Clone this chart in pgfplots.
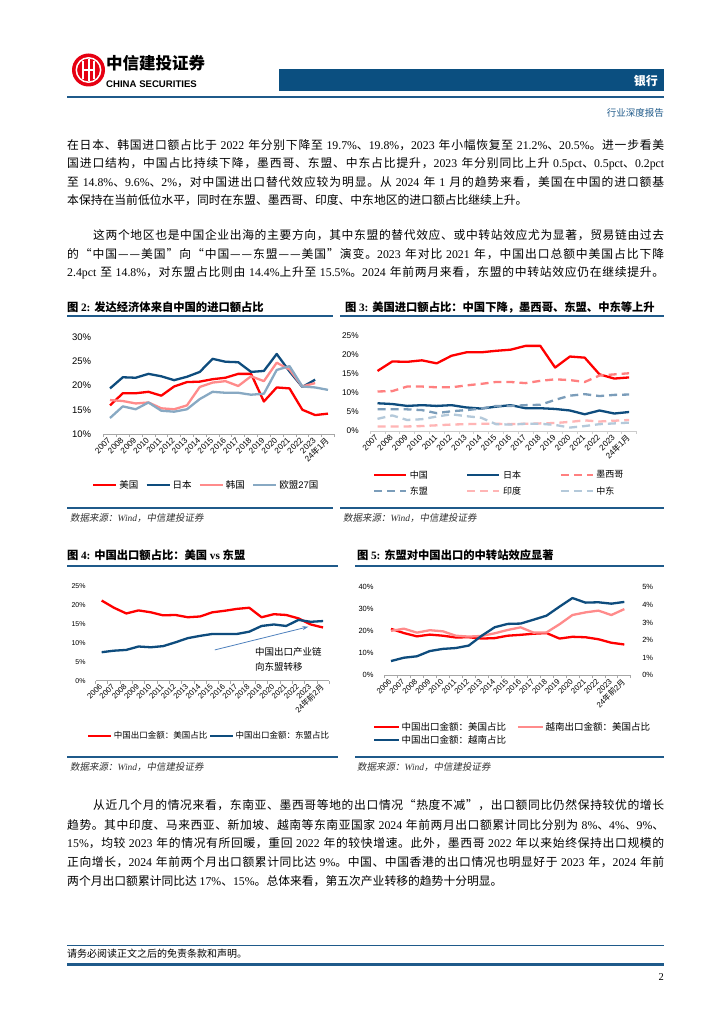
\documentclass[border=0pt]{standalone}
\usepackage{pgfplots}
\pgfplotsset{compat=1.18}
\usepackage{pgfplotstable}
\usetikzlibrary{arrows.meta}
\usepackage{fontspec}
\setmainfont{Liberation Serif}
\newfontfamily\lsans{Liberation Sans}
\newfontfamily\cjk{Noto Sans CJK SC}
\newfontfamily\cjki{Noto Sans CJK SC}[FakeSlant=0.18]
\def\cjkfont{\cjk}
\def\latinfont{\rmfamily}
\def\cjkglue{\hskip0pt plus 1pt minus 0.4pt\relax}
\XeTeXinterchartokenstate=1
\newXeTeXintercharclass\CJKcls
\newcount\tmpc
\tmpc="3000 \loop \XeTeXcharclass\tmpc=\CJKcls \ifnum\tmpc<"303F \advance\tmpc by 1 \repeat
\tmpc="4E00 \loop \XeTeXcharclass\tmpc=\CJKcls \ifnum\tmpc<"9FFF \advance\tmpc by 1 \repeat
\tmpc="FF00 \loop \XeTeXcharclass\tmpc=\CJKcls \ifnum\tmpc<"FFEF \advance\tmpc by 1 \repeat
\XeTeXcharclass"2014=\CJKcls
\XeTeXcharclass"201C=\CJKcls
\XeTeXcharclass"201D=\CJKcls
\XeTeXinterchartoks 0 \CJKcls = {\cjkfont}
\XeTeXinterchartoks 4095 \CJKcls = {\cjkfont}
\XeTeXinterchartoks \CJKcls 0 = {\latinfont}
\XeTeXinterchartoks 4095 0 = {\latinfont}
\XeTeXinterchartoks \CJKcls \CJKcls = {\cjkglue}
\hbadness=10000 \hfuzz=60pt
\newcommand\chartfont[2]{\def\latinfont{\lsans}\def\cjkfont{\cjk}\lsans\fontsize{#1}{#2}\selectfont}
\newcommand\bodyfont{\fontsize{11.8}{14}\selectfont}
\newcommand\srcfont{\itshape\def\cjkfont{\cjki}\def\latinfont{\rmfamily}\fontsize{9.5}{11}\selectfont}

\definecolor{cred}{HTML}{FF0000}
\definecolor{cnavy}{HTML}{0E4C7D}
\definecolor{cpink}{HTML}{FF8B8B}
\definecolor{cgblue}{HTML}{88A9C3}
\definecolor{cmex}{HTML}{FF8080}
\definecolor{casean}{HTML}{7B9DBA}
\definecolor{cindia}{HTML}{FFB5B5}
\definecolor{cme}{HTML}{B4C9DA}
\definecolor{hdrblue}{HTML}{0B4F80}
\definecolor{rulec}{HTML}{1F5A8A}
\definecolor{axgray}{HTML}{A6A6A6}
\definecolor{axlight}{HTML}{CCCCCC}
\definecolor{logored}{HTML}{E60012}
\definecolor{carrow}{HTML}{4F81BD}
\definecolor{srcgray}{HTML}{333333}

\pgfplotstableread{
i us jp kr eu
0 15.9 19.4 17.0 13.3
1 18.4 21.7 16.8 15.7
2 18.4 21.6 16.3 15.1
3 18.7 22.4 16.5 16.5
4 17.9 21.9 15.3 14.8
5 19.8 21.1 15.1 14.6
6 20.7 21.8 15.9 15.1
7 20.8 22.8 19.7 17.2
8 21.3 25.5 20.6 18.7
9 21.6 24.9 20.9 18.5
10 22.4 24.8 19.9 18.5
11 22.4 22.8 21.9 18.1
12 16.7 23.0 20.9 18.3
13 19.6 26.5 24.7 23.2
14 19.4 22.9 23.3 24.0
15 15.0 19.7 19.8 19.8
16 13.9 21.2 20.5 19.6
17 14.2 nan nan 19.1
}\figtwo

\pgfplotstableread{
i cn mx jp as in me
0 15.8 10.4 7.3 5.7 1.2 3.2
1 18.3 10.5 7.1 5.7 1.2 4.1
2 18.2 11.7 6.6 5.7 1.2 2.9
3 18.6 11.7 6.8 5.5 1.3 3.1
4 17.8 11.5 6.6 4.7 1.5 3.8
5 19.8 11.5 6.8 5.2 1.7 4.4
6 20.7 12.0 6.2 5.5 1.8 3.9
7 20.7 12.4 5.9 5.9 1.9 3.5
8 21.1 12.9 6.4 6.6 1.9 1.8
9 21.4 12.9 6.8 6.6 1.8 1.7
10 22.4 12.6 6.0 6.8 1.9 1.9
11 22.4 13.2 6.0 6.9 2.0 1.9
12 16.7 13.6 5.8 8.2 2.1 1.6
13 19.6 13.4 5.4 9.3 2.4 0.9
14 19.3 12.9 4.4 9.7 2.8 1.3
15 14.9 14.6 5.4 9.2 2.5 1.8
16 13.8 14.9 4.6 9.5 2.7 2.0
17 14.1 15.2 5.0 9.6 2.9 2.2
}\figthree

\pgfplotstableread{
i us as vnus vn
0 21.1 7.5 20.2 0.81
1 19.2 7.9 21.2 1.00
2 17.7 8.1 19.4 1.08
3 18.5 9.0 20.5 1.38
4 18.0 8.8 20.0 1.50
5 17.2 9.1 18.0 1.55
6 17.3 10.1 17.6 1.69
7 16.7 11.2 17.9 2.25
8 16.9 11.8 19.1 2.73
9 18.0 12.3 20.6 2.92
10 18.4 12.3 21.8 2.94
11 18.9 12.3 19.4 3.16
12 19.2 12.9 19.5 3.39
13 16.7 14.4 23.2 3.90
14 17.5 14.8 27.4 4.39
15 17.3 14.4 28.6 4.13
16 16.4 16.0 29.4 4.15
17 14.8 15.5 27.4 4.07
18 14.0 15.7 30.1 4.17
}\figfour

\pgfplotsset{
  rpt/.style={
    scale only axis, anchor=south west, clip=false,
    axis x line*=bottom, axis y line*=left,
    y axis line style={draw=none},
    x axis line style={draw=axgray, line width=0.7pt},
    major x tick style={draw=none},
    minor x tick style={draw=axgray, line width=0.7pt},
    minor tick length=3pt,
    ytick style={draw=none},
    tick align=outside,
    /pgf/number format/assume math mode=true,
    yticklabel={\pgfmathprintnumber{\tick}\%},
    xticklabel style={rotate=45, anchor=east, inner sep=1pt},
    yticklabel style={anchor=east, inner sep=1pt},
    legend style={draw=none, fill=none, inner sep=0pt, outer sep=0pt},
    legend cell align=left,
    unbounded coords=jump,
    every axis plot/.append style={line width=2.3pt, line join=round, mark=none},
  }
}

\newcommand\jline[3]{\node[anchor=west,inner sep=0pt,font=\bodyfont] at (#1,#2) {#3};}

\begin{document}
\begin{tikzpicture}
\begin{scope}[x=1pt,y=-1pt]
\path[use as bounding box] (0,0) rectangle (724,1024);
\fill[white] (0,0) rectangle (724,1024);
% header
\fill[logored] (88.5,70) circle (16.5);
\draw[white, line width=1.5pt] (88.5,70) circle (12.2);
\fill[white] (81.7,61) rectangle (83.7,79);
\fill[white] (87.5,59) rectangle (89.5,81);
\fill[white] (93.3,61) rectangle (95.3,79);
\fill[white] (81.7,69) rectangle (95.3,71);
\node[anchor=west,inner sep=0pt,font=\bfseries\fontsize{16.5}{20}\selectfont] at (106,63) {中信建投证券};
\node[anchor=west,inner sep=0pt,font={\chartfont{9.6}{11}\bfseries}] at (106,84) {CHINA SECURITIES};
\fill[hdrblue] (279,69.5) rectangle (664,91);
\node[anchor=east,inner sep=0pt,text=white,font=\bfseries\fontsize{12}{14}\selectfont] at (658,80.5) {银行};
\draw[rulec, line width=1.5pt] (67,97) -- (664,97);
\node[anchor=east,inner sep=0pt,text=rulec,font=\fontsize{9.5}{11}\selectfont] at (664,113) {行业深度报告};
% paragraph 1
\jline{67}{145}{\hbox to 597pt{在日本、韩国进口额占比于 2022 年分别下降至 19.7\%、19.8\%，2023 年小幅恢复至 21.2\%、20.5\%。进一步看美}}
\jline{67}{163.5}{\hbox to 597pt{国进口结构，中国占比持续下降，墨西哥、东盟、中东占比提升，2023 年分别同比上升 0.5pct、0.5pct、0.2pct}}
\jline{67}{182}{\hbox to 597pt{至 14.8\%、9.6\%、2\%，对中国进出口替代效应较为明显。从 2024 年 1 月的趋势来看，美国在中国的进口额基}}
\jline{67}{200.5}{本保持在当前低位水平，同时在东盟、墨西哥、印度、中东地区的进口额占比继续上升。}
% paragraph 2
\jline{93}{235}{\hbox to 571pt{这两个地区也是中国企业出海的主要方向，其中东盟的替代效应、或中转站效应尤为显著，贸易链由过去}}
\jline{67}{254}{\hbox to 597pt{的“中国——美国”向“中国——东盟——美国”演变。2023 年对比 2021 年，中国出口总额中美国占比下降}}
\jline{67}{273}{\hbox to 597pt{2.4pct 至 14.8\%，对东盟占比则由 14.4\%上升至 15.5\%。2024 年前两月来看，东盟的中转站效应仍在继续提升。}}
% figure titles and rules
\node[anchor=west,inner sep=0pt,font=\bfseries\fontsize{11.3}{13}\selectfont] at (67,307) {图 2: 发达经济体来自中国的进口额占比};
\node[anchor=west,inner sep=0pt,font=\bfseries\fontsize{11.3}{13}\selectfont] at (345,307) {图 3: 美国进口额占比：中国下降，墨西哥、东盟、中东等上升};
\draw[rulec, line width=1.3pt] (67,316) -- (333,316);
\draw[rulec, line width=1.3pt] (340,316) -- (664,316);
\draw[rulec, line width=1.3pt] (67,508) -- (333,508);
\draw[rulec, line width=1.3pt] (340,508) -- (664,508);
\node[anchor=west,inner sep=0pt,text=srcgray,font=\srcfont] at (70,518) {数据来源：Wind，中信建投证券};
\node[anchor=west,inner sep=0pt,text=srcgray,font=\srcfont] at (343,518) {数据来源：Wind，中信建投证券};
\node[anchor=west,inner sep=0pt,font=\bfseries\fontsize{11.3}{13}\selectfont] at (67,555) {图 4: 中国出口额占比：美国 vs 东盟};
\node[anchor=west,inner sep=0pt,font=\bfseries\fontsize{11.3}{13}\selectfont] at (357,555) {图 5: 东盟对中国出口的中转站效应显著};
\draw[rulec, line width=1.3pt] (67,566) -- (338,566);
\draw[rulec, line width=1.3pt] (355,566) -- (664,566);
\draw[rulec, line width=1.3pt] (67,757) -- (338,757);
\draw[rulec, line width=1.3pt] (355,757) -- (664,757);
\node[anchor=west,inner sep=0pt,text=srcgray,font=\srcfont] at (70,767) {数据来源：Wind，中信建投证券};
\node[anchor=west,inner sep=0pt,text=srcgray,font=\srcfont] at (357,767) {数据来源：Wind，中信建投证券};
% paragraph 3
\jline{93}{805}{\hbox to 571pt{从近几个月的情况来看，东南亚、墨西哥等地的出口情况“热度不减”，出口额同比仍然保持较优的增长}}
\jline{67}{824.5}{\hbox to 597pt{趋势。其中印度、马来西亚、新加坡、越南等东南亚国家 2024 年前两月出口额累计同比分别为 8\%、4\%、9\%、}}
\jline{67}{843.5}{\hbox to 597pt{15\%，均较 2023 年的情况有所回暖，重回 2022 年的较快增速。此外，墨西哥 2022 年以来始终保持出口规模的}}
\jline{67}{862.5}{\hbox to 597pt{正向增长，2024 年前两个月出口额累计同比达 9\%。中国、中国香港的出口情况也明显好于 2023 年，2024 年前}}
\jline{67}{881.5}{两个月出口额累计同比达 17\%、15\%。总体来看，第五次产业转移的趋势十分明显。}
% footer
\draw[rulec, line width=1pt] (67,945) -- (664,945);
\node[anchor=west,inner sep=0pt,font=\fontsize{10}{12}\selectfont] at (67,954) {请务必阅读正文之后的免责条款和声明。};
\draw[rulec, line width=3pt] (67,964.5) -- (664,964.5);
\node[anchor=east,inner sep=0pt,font=\fontsize{10.5}{12}\selectfont] at (664,977) {2};
\end{scope}

% ---------- Figure 2 ----------
\begin{axis}[rpt,
  at={(103.6pt,-434pt)}, width=230.8pt, height=97pt,
  xmin=-0.5, xmax=17.5, ymin=10, ymax=30, ytick={10,15,20,25,30},
  xtick={0,...,17}, minor xtick={-0.5,0.5,...,17.5},
  xticklabels={2007,2008,2009,2010,2011,2012,2013,2014,2015,2016,2017,2018,2019,2020,2021,2022,2023,24年1月},
  xticklabel style={font={\chartfont{8.2}{10}}},
  yticklabel style={font={\chartfont{9.5}{11}}, xshift=-7pt},
  legend columns=4,
  legend style={at={(-0.05,-0.526)}, anchor=west, font={\chartfont{9.5}{11}},
    nodes={inner sep=2pt},
    /tikz/every even column/.append style={column sep=5pt}},
  legend image code/.code={\draw[#1] (0pt,0pt) -- (23pt,0pt);},
]
\addplot[cred] table[x=i,y=us]{\figtwo};
\addplot[cnavy] table[x=i,y=jp]{\figtwo};
\addplot[cpink] table[x=i,y=kr]{\figtwo};
\addplot[cgblue] table[x=i,y=eu]{\figtwo};
\legend{美国,日本,韩国,欧盟27国}
\end{axis}

% ---------- Figure 3 ----------
\begin{axis}[rpt,
  at={(370.1pt,-431pt)}, width=266.4pt, height=95pt,
  xmin=-0.5, xmax=17.5, ymin=0, ymax=25, ytick={0,5,10,15,20,25},
  x axis line style={draw=axlight, line width=0.7pt},
  minor x tick style={draw=axlight, line width=0.7pt},
  xtick={0,...,17}, minor xtick={-0.5,0.5,...,17.5},
  xticklabels={2007,2008,2009,2010,2011,2012,2013,2014,2015,2016,2017,2018,2019,2020,2021,2022,2023,24年1月},
  xticklabel style={font={\chartfont{8.2}{10}}},
  yticklabel style={font={\chartfont{8.3}{10}}, xshift=-6pt},
  legend columns=3,
  legend style={at={(0.011,-0.389)}, anchor=north west, font={\chartfont{9}{11}},
    nodes={inner sep=2.5pt}, row sep=2pt,
    /tikz/every even column/.append style={column sep=36pt}},
  legend image code/.code={\draw[#1] (0pt,0pt) -- (32pt,0pt);},
]
\addplot[cred] table[x=i,y=cn]{\figthree};
\addplot[cnavy] table[x=i,y=jp]{\figthree};
\addplot[cmex, dash pattern=on 8pt off 5pt] table[x=i,y=mx]{\figthree};
\addplot[casean, dash pattern=on 8pt off 5pt] table[x=i,y=as]{\figthree};
\addplot[cindia, dash pattern=on 8pt off 5pt] table[x=i,y=in]{\figthree};
\addplot[cme, dash pattern=on 8pt off 5pt] table[x=i,y=me]{\figthree};
\legend{中国,日本,墨西哥,东盟,印度,中东}
\end{axis}

% ---------- Figure 4 ----------
\begin{axis}[rpt,
  at={(95.5pt,-680.7pt)}, width=233.7pt, height=95pt,
  xmin=-0.5, xmax=18.5, ymin=0, ymax=25, ytick={0,5,10,15,20,25},
  xtick={0,...,18}, minor xtick={-0.5,0.5,...,18.5},
  xticklabels={2006,2007,2008,2009,2010,2011,2012,2013,2014,2015,2016,2017,2018,2019,2020,2021,2022,2023,24年前2月},
  xticklabel style={font={\chartfont{7.8}{10}}},
  yticklabel style={font={\chartfont{7}{9}}, xshift=-4.5pt},
  legend columns=2,
  legend style={at={(-0.036,-0.582)}, anchor=west, font={\chartfont{8.5}{10}},
    nodes={inner sep=1.5pt},
    /tikz/every even column/.append style={column sep=0pt}},
  legend image code/.code={\draw[#1] (0pt,0pt) -- (23pt,0pt);},
]
\addplot[cred] table[x=i,y=us]{\figfour};
\addplot[cnavy] table[x=i,y=as]{\figfour};
\legend{中国出口金额：美国占比,中国出口金额：东盟占比}
\draw[-{Stealth[length=6pt,width=4pt]}, carrow, line width=0.8pt] (axis cs:9.2,8.1) -- (axis cs:16.8,14.2);
\node[anchor=west, inner sep=0pt, font=\fontsize{9.5}{11}\selectfont] at (axis cs:12.46,7.6) {中国出口产业链};
\node[anchor=west, inner sep=0pt, font=\fontsize{9.5}{11}\selectfont] at (axis cs:12.46,3.6) {向东盟转移};
\end{axis}

% ---------- Figure 5 ----------
\begin{axis}[rpt,
  at={(384.5pt,-675.3pt)}, width=246.3pt, height=88pt,
  xmin=-0.5, xmax=18.5, ymin=0, ymax=40, ytick={0,10,20,30,40},
  xtick={0,...,18}, minor xtick={-0.5,0.5,...,18.5},
  xticklabels={2006,2007,2008,2009,2010,2011,2012,2013,2014,2015,2016,2017,2018,2019,2020,2021,2022,2023,24年前2月},
  xticklabel style={font={\chartfont{7.8}{10}}},
  yticklabel style={font={\chartfont{7.5}{9}}, xshift=-5.5pt},
]
\addplot[cred] table[x=i,y=us]{\figfour};
\addplot[cpink] table[x=i,y=vnus]{\figfour};
\end{axis}
\begin{axis}[rpt,
  at={(384.5pt,-675.3pt)}, width=246.3pt, height=88pt,
  xmin=-0.5, xmax=18.5, ymin=0, ymax=5, ytick={0,1,2,3,4,5},
  axis x line=none, axis y line*=right,
  yticklabel style={font={\chartfont{7.5}{9}}, anchor=west, xshift=6pt},
  legend columns=2,
  legend style={at={(-0.047,-0.519)}, anchor=north west, font={\chartfont{9.5}{11}},
    nodes={inner sep=1.5pt}, row sep=0pt,
    /tikz/every even column/.append style={column sep=9pt}},
  legend image code/.code={\draw[#1] (0pt,0pt) -- (25pt,0pt);},
]
\addlegendimage{cred, line width=2.3pt}
\addlegendentry{中国出口金额：美国占比}
\addlegendimage{cpink, line width=2.3pt}
\addlegendentry{越南出口金额：美国占比}
\addplot[cnavy] table[x=i,y=vn]{\figfour};
\addlegendentry{中国出口金额：越南占比}
\end{axis}
\end{tikzpicture}
\end{document}
